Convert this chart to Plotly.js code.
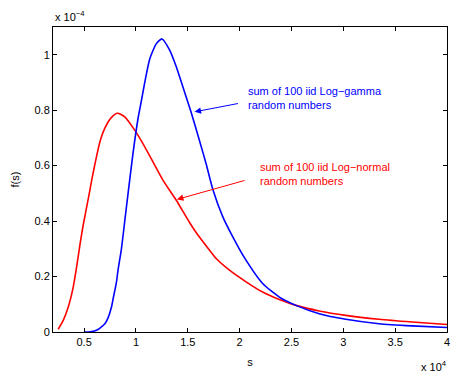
<!DOCTYPE html>
<html>
<head>
<meta charset="utf-8">
<script src="https://cdn.plot.ly/plotly-3.0.1.min.js"></script>
<style>html,body{margin:0;padding:0;background:#fff;}</style>
</head>
<body>
<div id="chart" style="width:450px;height:378px;"></div>
<script>
// s in units of 10^4, f(s) in units of 10^-4 (as shown on the axes)
const sLogNormal = [0.25, 0.299, 0.347, 0.395, 0.428, 0.46, 0.491, 0.54, 0.572, 0.604, 0.652, 0.70, 0.764, 0.822, 0.892, 0.988, 1.085, 1.181, 1.26, 1.389, 1.517, 1.582, 1.71, 1.774, 1.902, 2.062, 2.222, 2.383, 2.543, 2.767, 3.024, 3.344, 3.664, 4.0];
const fLogNormal = [0.01, 0.042, 0.09, 0.162, 0.235, 0.315, 0.385, 0.48, 0.545, 0.605, 0.685, 0.735, 0.774, 0.789, 0.776, 0.728, 0.668, 0.602, 0.548, 0.475, 0.395, 0.358, 0.295, 0.265, 0.223, 0.181, 0.144, 0.117, 0.096, 0.076, 0.060, 0.046, 0.036, 0.027];

const sLogGamma = [0.5, 0.56, 0.62, 0.70, 0.732, 0.764, 0.78, 0.812, 0.828, 0.86, 0.892, 0.924, 0.972, 1.02, 1.053, 1.085, 1.133, 1.197, 1.251, 1.325, 1.389, 1.453, 1.53, 1.613, 1.678, 1.741, 1.838, 1.934, 2.046, 2.222, 2.383, 2.543, 2.767, 3.024, 3.344, 3.664, 4.0];
const fLogGamma = [0, 0.001, 0.006, 0.03, 0.052, 0.09, 0.12, 0.18, 0.225, 0.30, 0.40, 0.50, 0.645, 0.77, 0.835, 0.90, 0.985, 1.04, 1.057, 1.017, 0.957, 0.884, 0.795, 0.69, 0.605, 0.515, 0.415, 0.343, 0.268, 0.175, 0.126, 0.096, 0.066, 0.046, 0.030, 0.022, 0.016];

const xTickVals = [0.5, 1, 1.5, 2, 2.5, 3, 3.5, 4];
const xTickText = ["0.5", "1", "1.5", "2", "2.5", "3", "3.5", "4"];
const yTickVals = [0, 0.2, 0.4, 0.6, 0.8, 1];
const yTickText = ["0", "0.2", "0.4", "0.6", "0.8", "1"];

const labelGamma = "sum of 100 iid Log\u2212gamma<br>random numbers";
const labelNormal = "sum of 100 iid Log\u2212normal<br>random numbers";

const FONT = "Liberation Sans, Arial, Helvetica, sans-serif";

const traces = [
  {x: sLogNormal, y: fLogNormal, type: "scatter", mode: "lines", line: {color: "#ff0000", width: 1.6, shape: "spline", smoothing: 0.6}, name: "Log-normal"},
  {x: sLogGamma, y: fLogGamma, type: "scatter", mode: "lines", line: {color: "#0000ff", width: 1.6, shape: "spline", smoothing: 0.6}, name: "Log-gamma"}
];

const axisCommon = {
  showline: true, linecolor: "#000", linewidth: 1, mirror: "allticks",
  ticks: "inside", ticklen: 4, tickcolor: "#000", tickwidth: 1,
  showgrid: false, zeroline: false, ticklabeloverflow: "allow",
  tickfont: {family: FONT, size: 11, color: "#000"}
};

const layout = {
  width: 450, height: 378,
  margin: {l: 53, r: 3, t: 27, b: 46},
  paper_bgcolor: "#fff", plot_bgcolor: "#fff",
  showlegend: false,
  font: {family: FONT, size: 11, color: "#000"},
  xaxis: Object.assign({}, axisCommon, {
    range: [0.2, 4], tickmode: "array", tickvals: xTickVals, ticktext: xTickText,
    title: {text: "s", font: {family: FONT, size: 11, color: "#000"}, standoff: 11}
  }),
  yaxis: Object.assign({}, axisCommon, {
    range: [0, 1.1], tickmode: "array", tickvals: yTickVals, ticktext: yTickText,
    title: {text: "f(s)", font: {family: FONT, size: 11, color: "#000"}, standoff: 12}
  }),
  annotations: [
    {xref: "paper", yref: "paper", x: 0, y: 1.005, xanchor: "left", yanchor: "bottom",
     text: "x 10<sup>\u22124</sup>", showarrow: false, font: {family: FONT, size: 11, color: "#000"}},
    {xref: "paper", yref: "paper", x: 1.005, y: -0.142, xanchor: "right", yanchor: "bottom",
     text: "x 10<sup>4</sup>", showarrow: false, font: {family: FONT, size: 11, color: "#000"}},
    {x: 1.565, y: 0.794, ax: 1.998, ay: 0.825, axref: "x", ayref: "y", text: "",
     showarrow: true, arrowhead: 2, arrowsize: 1.3, arrowwidth: 1, arrowcolor: "#0000ff"},
    {x: 2.062, y: 0.845, xanchor: "left", yanchor: "middle", align: "left",
     text: labelGamma, showarrow: false, font: {family: FONT, size: 11, color: "#0000ff"}},
    {x: 1.395, y: 0.478, ax: 2.062, ay: 0.548, axref: "x", ayref: "y", text: "",
     showarrow: true, arrowhead: 2, arrowsize: 1.3, arrowwidth: 1, arrowcolor: "#ff0000"},
    {x: 2.181, y: 0.569, xanchor: "left", yanchor: "middle", align: "left",
     text: labelNormal, showarrow: false, font: {family: FONT, size: 11, color: "#ff0000"}}
  ]
};

Plotly.newPlot("chart", traces, layout, {displayModeBar: false, staticPlot: true});
</script>
</body>
</html>
